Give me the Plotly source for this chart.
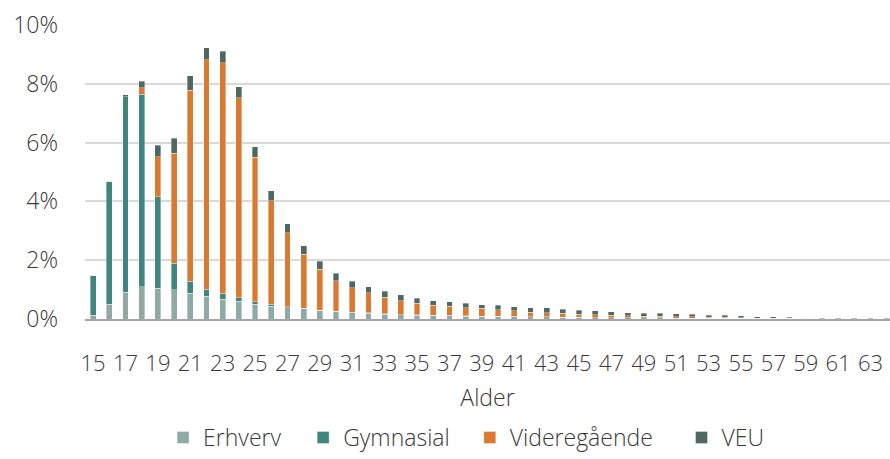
import plotly.graph_objects as go

ages = list(range(15, 65))

erhverv = [0.13, 0.51, 0.91, 1.10, 1.04, 0.99, 0.87, 0.77, 0.67, 0.60,
           0.51, 0.44, 0.39, 0.36, 0.29, 0.26, 0.22, 0.20, 0.17, 0.14,
           0.13, 0.12, 0.11, 0.10, 0.09, 0.09, 0.08, 0.07, 0.07, 0.06,
           0.06, 0.05, 0.05, 0.04, 0.04, 0.04, 0.03, 0.03, 0.03, 0.03,
           0.02, 0.02, 0.02, 0.02, 0.02, 0.01, 0.01, 0.01, 0.01, 0.01]

gymnasial = [1.36, 4.18, 6.65, 6.54, 3.12, 0.90, 0.41, 0.25, 0.21, 0.13,
             0.07, 0.06, 0.02, 0.01, 0.01, 0.01, 0.01, 0.01, 0.01, 0.01,
             0.01, 0.01, 0.01, 0.01, 0.01, 0.01, 0.01, 0.0, 0.0, 0.0,
             0.0, 0.0, 0.0, 0.0, 0.0, 0.0, 0.0, 0.0, 0.0, 0.0,
             0.0, 0.0, 0.0, 0.0, 0.0, 0.0, 0.0, 0.0, 0.0, 0.0]

videregaende = [0.0, 0.0, 0.0, 0.22, 1.36, 3.74, 6.50, 7.80, 7.84, 6.80,
                4.93, 3.53, 2.53, 1.84, 1.40, 1.03, 0.83, 0.68, 0.56, 0.47,
                0.40, 0.34, 0.31, 0.28, 0.26, 0.22, 0.19, 0.16, 0.15, 0.14,
                0.10, 0.09, 0.08, 0.07, 0.06, 0.06, 0.05, 0.04, 0.03, 0.03,
                0.02, 0.01, 0.01, 0.01, 0.01, 0.0, 0.0, 0.0, 0.0, 0.0]

veu = [0.0, 0.01, 0.07, 0.22, 0.39, 0.51, 0.49, 0.41, 0.39, 0.37,
       0.35, 0.33, 0.30, 0.28, 0.27, 0.26, 0.22, 0.21, 0.20, 0.21,
       0.17, 0.15, 0.15, 0.14, 0.13, 0.14, 0.14, 0.16, 0.16, 0.13,
       0.13, 0.14, 0.11, 0.10, 0.09, 0.09, 0.10, 0.09, 0.07, 0.06,
       0.07, 0.05, 0.04, 0.03, 0.02, 0.02, 0.02, 0.01, 0.01, 0.01]

series = [
    ("Erhverv", erhverv, "#8FA9A5"),
    ("Gymnasial", gymnasial, "#40867C"),
    ("Videregående", videregaende, "#D97A30"),
    ("VEU", veu, "#4E6862"),
]

y_ticks = [0, 2, 4, 6, 8, 10]
x_ticks = list(range(15, 64, 2))

FONT = "Open Sans"
TXT = "#3A3A3A"
FS = 23
TFS = 22

# legend box left edges (paper fraction of plot width), one legend per series
legend_x = [0.097, 0.271, 0.478, 0.741]
legend_ids = ["legend", "legend2", "legend3", "legend4"]

fig = go.Figure()
for (name, vals, col), lid in zip(series, legend_ids):
    fig.add_trace(go.Bar(
        x=ages, y=vals, name=name, legend=lid,
        marker=dict(color=col, line=dict(color="rgba(255,255,255,0.6)", width=0.6)),
    ))

legend_style = dict(
    orientation="h", xanchor="left", y=-0.405, yanchor="middle",
    font=dict(family=FONT, size=FS, color=TXT, weight=300),
    itemwidth=30, bgcolor="rgba(0,0,0,0)",
)
legends = {lid: dict(x=lx, **legend_style) for lid, lx in zip(legend_ids, legend_x)}

fig.update_layout(
    barmode="stack",
    bargap=0.64,
    width=890, height=459,
    margin=dict(l=85, r=0, t=25, b=135),
    paper_bgcolor="white", plot_bgcolor="white",
    font=dict(family=FONT, size=FS, color=TXT, weight=300),
    showlegend=True,
    xaxis=dict(
        automargin=False,
        range=[14.5, 64.2], tickmode="array", tickvals=x_ticks,
        ticktext=[str(v) for v in x_ticks],
        showgrid=False, zeroline=False,
        showline=True, linecolor="#A6A6A6", linewidth=2,
        ticks="", ticklabelstandoff=24,
        title=dict(text="Alder", standoff=13, font=dict(family=FONT, size=FS, color=TXT, weight=300)),
        tickfont=dict(family=FONT, size=TFS, color=TXT, weight=300),
    ),
    yaxis=dict(
        automargin=False,
        range=[0, 10], tickmode="array", tickvals=y_ticks,
        ticktext=[f"{v}%" for v in y_ticks],
        showgrid=True, gridcolor="#D9D9D9", gridwidth=1.5,
        zeroline=False, showline=False, ticks="", ticklabelstandoff=26,
        tickfont=dict(family=FONT, size=FS, color=TXT, weight=300),
    ),
    **legends,
)

fig.write_html(
    "out.html",
    config={"displayModeBar": False},
    post_script="document.body.style.margin='0';document.body.style.overflow='hidden';",
)
